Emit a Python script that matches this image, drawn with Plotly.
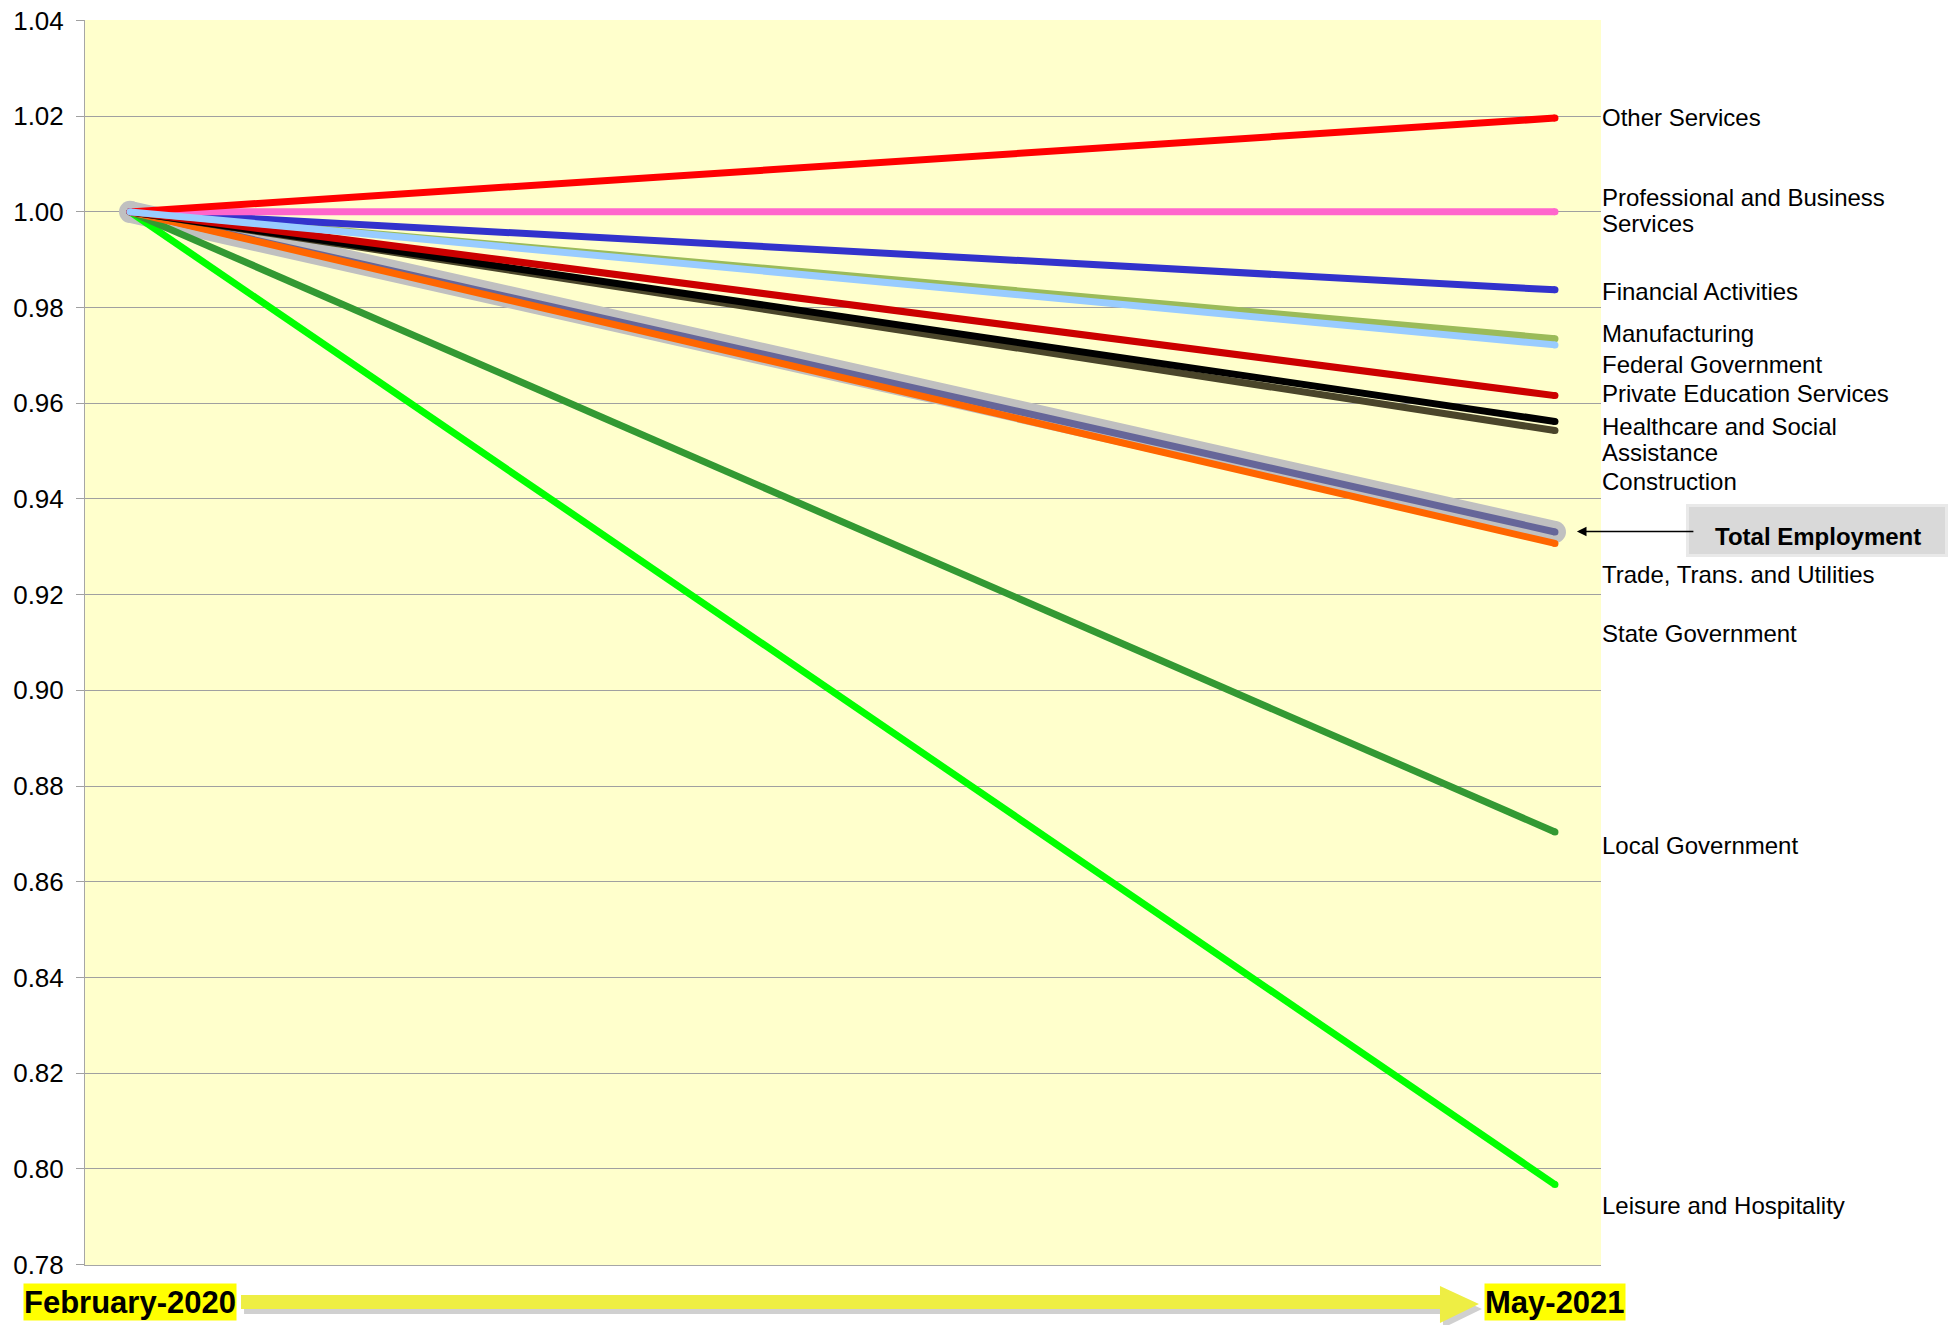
import plotly.graph_objects as go

# Employment indexed to February 2020 (= 1.00), by sector
periods = ["February-2020", "May-2021"]

sectors = [
    "Leisure and Hospitality",
    "Local Government",
    "Trade, Trans. and Utilities",
    "Construction",
    "Healthcare and Social Assistance",
    "Private Education Services",
    "Manufacturing",
    "Financial Activities",
    "Professional and Business Services",
    "Other Services",
    "Federal Government",
]
feb_2020 = [1.00, 1.00, 1.00, 1.00, 1.00, 1.00, 1.00, 1.00, 1.00, 1.00, 1.00]
may_2021 = [0.7967, 0.8704, 0.9307, 0.9543, 0.9562, 0.9616, 0.9735, 0.9837, 1.0000, 1.0196, 0.9722]
sector_colors = [
    "#00FF00", "#339933", "#FF6600", "#4A452A", "#000000", "#CC0000",
    "#9BBB59", "#3333CC", "#FF66CC", "#FF0000", "#99CCFF",
]

total_name = "Total Employment"
total_values = [1.00, 0.9331]

# Right-hand side captions, top to bottom
caption_texts = [
    "Other Services",
    "Professional and Business<br>Services",
    "Financial Activities",
    "Manufacturing",
    "Federal Government",
    "Private Education Services",
    "Healthcare and Social<br>Assistance",
    "Construction",
    "Trade, Trans. and Utilities",
    "State Government",
    "Local Government",
    "Leisure and Hospitality",
]
caption_y = [1.0198, 1.0003, 0.9834, 0.9746, 0.9682, 0.9620, 0.9524, 0.9436,
             0.9243, 0.9119, 0.8675, 0.7923]

FONT = "Liberation Sans, Arial, sans-serif"
x_pos = [0, 1]

# pixel helpers for the plot box (85..1601 x 20..1265)
def px_to_x(px):
    return (px - 130) / 1425.0

def px_to_paper_x(px):
    return (px - 85) / 1516.0

def px_to_paper_y(py):
    return (1265 - py) / 1245.0

fig = go.Figure()

# Total employment: grey halo underneath, slate line on top
fig.add_trace(go.Scatter(
    x=x_pos, y=total_values, mode="lines+markers",
    line=dict(color="#C0C0C0", width=22),
    marker=dict(color="#C0C0C0", size=22, line=dict(width=0)),
    hoverinfo="skip", showlegend=False,
))
fig.add_trace(go.Scatter(
    x=x_pos, y=total_values, mode="lines+markers", name=total_name,
    line=dict(color="#666699", width=7),
    marker=dict(color="#666699", size=7, line=dict(width=0)),
    showlegend=False,
))

for name, a, b, c in zip(sectors, feb_2020, may_2021, sector_colors):
    fig.add_trace(go.Scatter(
        x=x_pos, y=[a, b], mode="lines+markers", name=name,
        line=dict(color=c, width=7),
        marker=dict(color=c, size=7, line=dict(width=0)),
        showlegend=False,
    ))

LINE_STEP = 26.7 / 4788.5  # caption line spacing in data units

annotations = []
for txt, yv in zip(caption_texts, caption_y):
    lines = txt.split("<br>")
    n = len(lines)
    for i, ln in enumerate(lines):
        annotations.append(dict(
            x=1.0316, y=yv + ((n - 1) / 2 - i) * LINE_STEP, xref="x", yref="y",
            text=ln, showarrow=False,
            xanchor="left", yanchor="middle", align="left",
            font=dict(family=FONT, size=24, color="#000000"),
        ))

# Callout for the total line
annotations.append(dict(
    x=px_to_paper_x(1818), y=px_to_paper_y(536), xref="paper", yref="paper",
    text="<b>Total Employment</b>",
    showarrow=False, xanchor="center", yanchor="middle",
    font=dict(family=FONT, size=24, color="#000000"),
))
annotations.append(dict(
    x=1.0154, y=0.9332, xref="x", yref="y", ax=1.0982, ay=0.9332,
    axref="x", ayref="y", text="", showarrow=True,
    arrowhead=2, arrowsize=1.2, arrowwidth=1.6, arrowcolor="#000000",
))

# Period labels under the start and end points
for xv, txt in zip(x_pos, periods):
    annotations.append(dict(
        x=xv, y=px_to_paper_y(1302), xref="x", yref="paper", text="<b>" + txt + "</b>",
        showarrow=False, xanchor="center", yanchor="middle",
        bgcolor="#FFFF00", borderpad=0, height=36,
        font=dict(family=FONT, size=31, color="#000000"),
    ))

def arrow_path(dx=0, dy=0):
    pts = [(241, 1295), (1440, 1295), (1440, 1286), (1479, 1304),
           (1440, 1323), (1440, 1309), (241, 1309)]
    segs = []
    for i, (px, py) in enumerate(pts):
        segs.append(("M" if i == 0 else "L") + f"{px_to_x(px + dx):.5f},{px_to_paper_y(py + dy):.5f}")
    return " ".join(segs) + " Z"

shapes = [
    dict(type="path", path=arrow_path(3, 5), xref="x", yref="paper",
         fillcolor="rgba(120,120,120,0.35)", line=dict(width=0), layer="below"),
    dict(type="path", path=arrow_path(), xref="x", yref="paper",
         fillcolor="#EEEE44", line=dict(width=0), layer="above"),
    # callout box with a soft edge
    dict(type="rect", xref="paper", yref="paper",
         x0=px_to_paper_x(1686), x1=px_to_paper_x(1948),
         y0=px_to_paper_y(504), y1=px_to_paper_y(557),
         fillcolor="#E9E9E9", line=dict(width=0), layer="below"),
    dict(type="rect", xref="paper", yref="paper",
         x0=px_to_paper_x(1689), x1=px_to_paper_x(1945),
         y0=px_to_paper_y(507), y1=px_to_paper_y(554),
         fillcolor="#D9D9D9", line=dict(width=0), layer="below"),
]

fig.update_layout(
    width=1948, height=1325,
    margin=dict(l=85, r=347, t=20, b=60, autoexpand=False),
    paper_bgcolor="#FFFFFF",
    plot_bgcolor="#FFFFCC",
    showlegend=False,
    annotations=annotations,
    shapes=shapes,
    xaxis=dict(
        range=[-0.0316, 1.0323], showgrid=False, zeroline=False,
        showticklabels=False, ticks="", showline=True, automargin=False,
        linecolor="#A6A6A6", linewidth=1, fixedrange=True,
    ),
    yaxis=dict(
        range=[0.7799, 1.0401], tick0=0.78, dtick=0.02, tickformat=".2f",
        showgrid=True, gridcolor="#A0A0A0", gridwidth=1, zeroline=False,
        showline=True, linecolor="#A6A6A6", linewidth=1, automargin=False,
        ticks="outside", ticklen=8, tickcolor="#A0A0A0",
        ticklabelstandoff=7,
        tickfont=dict(family=FONT, size=26, color="#000000"),
    ),
)

fig.write_html("out.html")
